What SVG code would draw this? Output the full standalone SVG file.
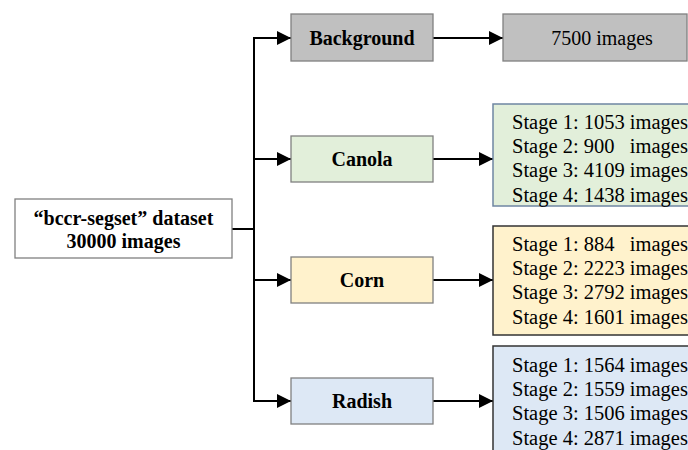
<svg xmlns="http://www.w3.org/2000/svg" width="688" height="450" viewBox="0 0 688 450">
<defs>
<marker id="ah" markerUnits="userSpaceOnUse" markerWidth="14" markerHeight="14" refX="14" refY="7" orient="auto">
<path d="M0,0 L14,7 L0,14 z" fill="#000"/>
</marker>
<style>
.node{stroke:#808080;stroke-width:1.3}
.lbl{font-family:"Liberation Serif","Times New Roman",serif;font-size:20px;font-weight:bold;fill:#000;text-anchor:middle}
.txt{font-family:"Liberation Serif","Times New Roman",serif;font-size:20px;fill:#000}
.stg{font-family:"Liberation Serif","Times New Roman",serif;font-size:20.5px;fill:#000}
.conn{stroke:#000;stroke-width:2;fill:none}
</style>
</defs>
<rect width="688" height="450" fill="#fff"/>
<g id="connectors">
<path class="conn" d="M232,229 H254"/>
<path class="conn" d="M254,38 V401"/>
<path class="conn" d="M253,38 H291" marker-end="url(#ah)"/>
<path class="conn" d="M254,159 H291" marker-end="url(#ah)"/>
<path class="conn" d="M254,280 H291" marker-end="url(#ah)"/>
<path class="conn" d="M253,401 H291" marker-end="url(#ah)"/>
<path class="conn" d="M433,38 H503" marker-end="url(#ah)"/>
<path class="conn" d="M433,159 H493" marker-end="url(#ah)"/>
<path class="conn" d="M433,280 H493" marker-end="url(#ah)"/>
<path class="conn" d="M433,401 H493" marker-end="url(#ah)"/>
</g>
<g id="root">
<rect class="node" x="15" y="199" width="217" height="59" fill="#fff"/>
<text class="lbl" x="123.5" y="225">“bccr-segset” dataset</text>
<text class="lbl" x="123.5" y="248">30000 images</text>
</g>
<g id="background">
<rect class="node" x="291" y="14" width="142" height="47" fill="#c0c0c0"/>
<text class="lbl" x="362" y="45">Background</text>
</g>
<g id="background-count">
<rect class="node" x="503" y="14" width="184" height="47" fill="#c0c0c0"/>
<text class="txt" x="602" y="45" text-anchor="middle">7500 images</text>
</g>
<g id="canola">
<rect class="node" x="291" y="136" width="142" height="46" fill="#e2efda"/>
<text class="lbl" x="362" y="166">Canola</text>
</g>
<g id="canola-stages">
<rect x="493" y="104" width="200" height="102" fill="#e2efda" stroke="#6f86a3" stroke-width="1.5"/>
<text class="stg" x="512" y="128.5" xml:space="preserve">Stage 1: 1053 images</text>
<text class="stg" x="512" y="152.9" xml:space="preserve">Stage 2: 900   images</text>
<text class="stg" x="512" y="177.3" xml:space="preserve">Stage 3: 4109 images</text>
<text class="stg" x="512" y="201.7" xml:space="preserve">Stage 4: 1438 images</text>
</g>
<g id="corn">
<rect class="node" x="291" y="257" width="142" height="46" fill="#fff2cc"/>
<text class="lbl" x="362" y="287">Corn</text>
</g>
<g id="corn-stages">
<rect x="493" y="226" width="200" height="109" fill="#fff2cc" stroke="#333" stroke-width="1.5"/>
<text class="stg" x="512" y="250.5" xml:space="preserve">Stage 1: 884   images</text>
<text class="stg" x="512" y="274.9" xml:space="preserve">Stage 2: 2223 images</text>
<text class="stg" x="512" y="299.3" xml:space="preserve">Stage 3: 2792 images</text>
<text class="stg" x="512" y="323.7" xml:space="preserve">Stage 4: 1601 images</text>
</g>
<g id="radish">
<rect class="node" x="291" y="378" width="142" height="46" fill="#dde8f5"/>
<text class="lbl" x="362" y="408">Radish</text>
</g>
<g id="radish-stages">
<rect x="493" y="346" width="200" height="120" fill="#dde8f5" stroke="#333" stroke-width="1.5"/>
<text class="stg" x="512" y="371.5" xml:space="preserve">Stage 1: 1564 images</text>
<text class="stg" x="512" y="395.9" xml:space="preserve">Stage 2: 1559 images</text>
<text class="stg" x="512" y="420.3" xml:space="preserve">Stage 3: 1506 images</text>
<text class="stg" x="512" y="444.7" xml:space="preserve">Stage 4: 2871 images</text>
</g>
</svg>
